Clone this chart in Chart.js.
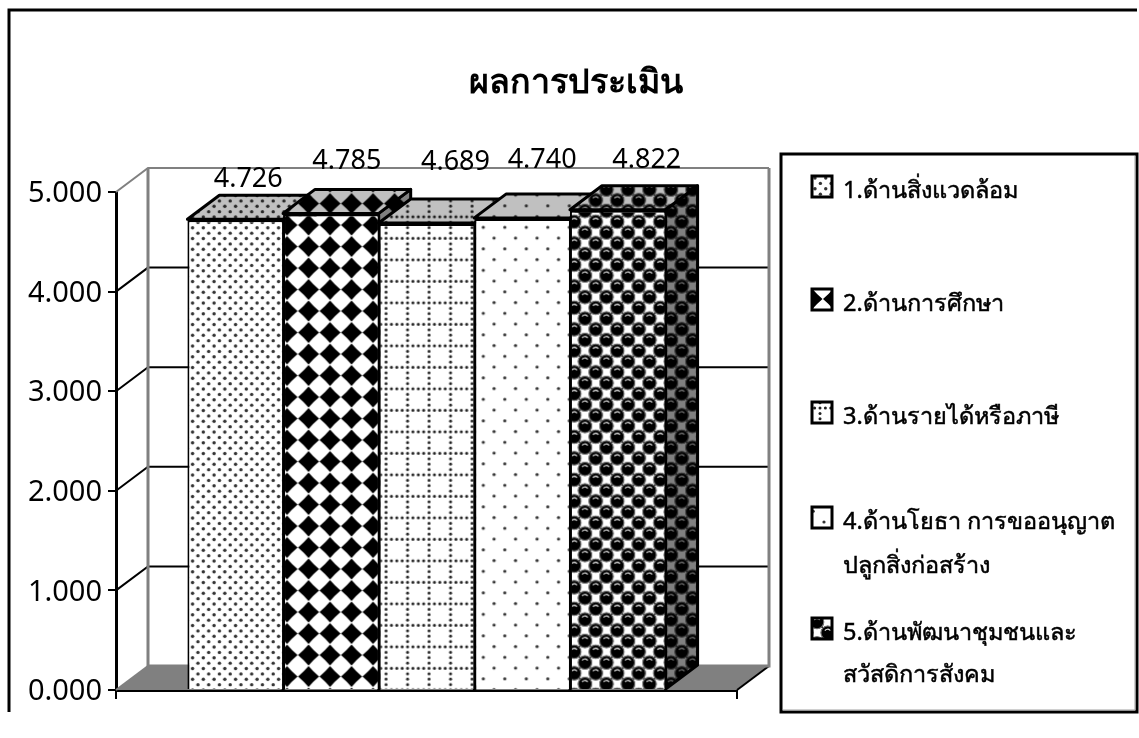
<!DOCTYPE html>
<html>
<head>
<meta charset="utf-8">
<style>
    html, body { margin: 0; padding: 0; background: #fff; }
    canvas { display: block; }
</style>
<script src="https://cdn.jsdelivr.net/npm/chart.js@4"></script>
</head>
<body>
<canvas id="evalChart" width="1139" height="738"></canvas>
<script>
const categories = [""];
const seriesNames = ["1.ด้านสิ่งแวดล้อม", "2.ด้านการศึกษา", "3.ด้านรายได้หรือภาษี", "4.ด้านโยธา การขออนุญาต", "5.ด้านพัฒนาชุมชนและ"];
const seriesNamesLine2 = ["", "", "", "ปลูกสิ่งก่อสร้าง", "สวัสดิการสังคม"];
const seriesValues = [4.726, 4.785, 4.689, 4.740, 4.822];
const titleText = "ผลการประเมิน";

const FONT = "'Noto Sans', Tahoma, sans-serif";
const DEPTH_X = 32, DEPTH_Y = -24;
const TILE = 43, CELL = 21.5;

// hand placed value labels, same as the original sheet
const labelNudgeX = [13, 16, 29, 20, 29];
const labelY = [179, 161, 162, 160, 160];
// legend rows (baseline of first line, baseline of second)
const legendRows = [[198], [311], [424], [529, 573], [640, 682]];
const swatchAnchor = [[3, 2], [0, 10], [8, 6], [12, 15], [5, 4]];

function makeTile(paint) {
    let c = document.createElement("canvas");
    c.width = TILE; c.height = TILE;
    let g = c.getContext("2d");
    g.fillStyle = "#fff";
    g.fillRect(0, 0, TILE, TILE);
    paint(g);
    return c;
}

function dot(g, x, y, r) {
    g.beginPath();
    g.arc(x, y, r, 0, Math.PI * 2);
    g.fill();
}

// every cell is drawn with wrap around so the tile stays seamless
function eachCell(step, fn) {
    for (let i = -1; i * step <= TILE + step; i++) {
        for (let j = -1; j * step <= TILE + step; j++) {
            fn(i * step, j * step, i, j);
        }
    }
}

const tiles = [
    makeTile((g) => {
        g.fillStyle = "#333";
        eachCell(CELL / 4, (x, y, i, j) => { if ((i + j) % 2 == 0) dot(g, x, y, 1.7); });
    }),
    makeTile((g) => {
        g.fillStyle = "#000";
        eachCell(CELL, (x, y) => {
            let r = 10.5, k = 4.8;
            g.beginPath();
            g.moveTo(x - r, y);
            g.quadraticCurveTo(x - k, y - k, x, y - r);
            g.quadraticCurveTo(x + k, y - k, x + r, y);
            g.quadraticCurveTo(x + k, y + k, x, y + r);
            g.quadraticCurveTo(x - k, y + k, x - r, y);
            g.fill();
        });
    }),
    makeTile((g) => {
        g.fillStyle = "#222";
        eachCell(CELL / 4, (x, y, i, j) => {
            if (i % 4 == 0 || j % 4 == 0) dot(g, x, y, 1.5);
        });
    }),
    makeTile((g) => {
        g.fillStyle = "#333";
        eachCell(CELL / 2, (x, y, i, j) => { if ((i + j) % 2 == 0 && i % 2 == 0) dot(g, x, y, 1.6); });
        eachCell(CELL / 2, (x, y, i, j) => { if (i % 2 != 0 && j % 2 != 0) dot(g, x, y, 1.6); });
    }),
    makeTile((g) => {
        g.fillStyle = "#000";
        g.fillRect(0, 0, TILE, TILE);
        eachCell(CELL / 2, (x, y, i, j) => {
            if ((i + j) % 2 != 0) {
                g.fillStyle = "#fff";
                g.fillRect(x - 5, y - 5, 10, 10);
            }
        });
        eachCell(CELL / 2, (x, y, i, j) => {
            if ((i + j) % 2 == 0) {
                g.fillStyle = "#000";
                dot(g, x, y, 7);
                g.strokeStyle = "#777";
                g.lineWidth = 1.1;
                g.beginPath();
                g.arc(x, y, 6.8, 0, Math.PI * 2);
                g.stroke();
                g.strokeStyle = "#dcdcdc";
                g.lineWidth = 1.3;
                g.beginPath();
                g.arc(x, y, 3.5, Math.PI * 1.2, Math.PI * 1.8);
                g.stroke();
            }
        });
    }),
];

const patternPhase = [[9.8, 2], [7.5, 10], [20.5, 1.8], [10.3, 12.3], [15.2, 6.7]];
const ctx = document.getElementById("evalChart").getContext("2d");
const patterns = tiles.map((t, i) => {
    let p = ctx.createPattern(t, "repeat");
    p.setTransform(new DOMMatrix().translate(patternPhase[i][0], patternPhase[i][1]));
    return p;
});

function poly(c, pts) {
    c.beginPath();
    pts.forEach((p, i) => i ? c.lineTo(p[0], p[1]) : c.moveTo(p[0], p[1]));
    c.closePath();
}

function shadeFace(c, pts, pattern, shade) {
    poly(c, pts);
    c.fillStyle = pattern;
    c.fill();
    c.save();
    c.globalCompositeOperation = "multiply";
    c.fillStyle = shade;
    c.fill();
    c.restore();
    c.strokeStyle = "#000";
    c.lineWidth = 3;
    c.lineJoin = "round";
    c.stroke();
}

const box3d = {
    id: "box3d",
    afterLayout(chart) {
        // title is centred on the whole frame, not the plot
        chart.titleBlock.right = chart.width - 1;
    },
    beforeDraw(chart) {
        let c = chart.ctx;
        c.save();
        c.fillStyle = "#fff";
        c.fillRect(0, 0, chart.width, chart.height);
        // outer frame has no bottom edge left of the legend
        c.strokeStyle = "#000";
        c.lineWidth = 3;
        c.beginPath();
        c.moveTo(9, 712);
        c.lineTo(9, 10);
        c.lineTo(1137, 10);
        c.stroke();
        c.restore();
    },
    beforeDatasetsDraw(chart) {
        let c = chart.ctx;
        let a = chart.chartArea;
        let y = chart.scales.y;
        c.save();

        // floor
        poly(c, [[a.left, a.bottom], [a.left + DEPTH_X, a.bottom + DEPTH_Y], [a.right + DEPTH_X, a.bottom + DEPTH_Y], [a.right, a.bottom]]);
        c.fillStyle = "#808080";
        c.fill();
        c.lineWidth = 2;
        c.strokeStyle = "#000";
        c.beginPath();
        c.moveTo(a.right, a.bottom);
        c.lineTo(a.right + DEPTH_X, a.bottom + DEPTH_Y);
        c.stroke();

        // gridlines on the side and back walls
        y.ticks.forEach((t) => {
            let py = y.getPixelForValue(t.value);
            if (t.value == 0) return;
            c.strokeStyle = t.value == 5 ? "#808080" : "#000";
            c.lineWidth = 2;
            c.beginPath();
            c.moveTo(a.left, py);
            c.lineTo(a.left + DEPTH_X, py + DEPTH_Y);
            c.lineTo(a.right + DEPTH_X, py + DEPTH_Y);
            c.stroke();
        });

        // wall edges
        c.strokeStyle = "#808080";
        c.lineWidth = 3;
        c.beginPath();
        c.moveTo(a.left + DEPTH_X, a.top + DEPTH_Y);
        c.lineTo(a.left + DEPTH_X, a.bottom + DEPTH_Y);
        c.lineTo(a.right + DEPTH_X, a.bottom + DEPTH_Y);
        c.lineTo(a.right + DEPTH_X, a.top + DEPTH_Y);
        c.stroke();
        c.lineWidth = 2;
        c.beginPath();
        c.moveTo(a.left, a.bottom);
        c.lineTo(a.left + DEPTH_X, a.bottom + DEPTH_Y);
        c.stroke();

        // top and side of each bar, the front comes from the library
        chart.data.datasets.forEach((ds, i) => {
            let b = chart.getDatasetMeta(i).data[0];
            let l = b.x - b.width / 2, r = b.x + b.width / 2;
            shadeFace(c, [[r, b.y], [r + DEPTH_X, b.y + DEPTH_Y], [r + DEPTH_X, b.base + DEPTH_Y], [r, b.base]], patterns[i], "#808080");
            shadeFace(c, [[l, b.y], [l + DEPTH_X, b.y + DEPTH_Y], [r + DEPTH_X, b.y + DEPTH_Y], [r, b.y]], patterns[i], "#c0c0c0");
        });
        c.restore();
    },
    afterDatasetsDraw(chart) {
        let c = chart.ctx;
        c.save();
        c.font = "27px " + FONT;
        c.fillStyle = "#000";
        c.textAlign = "center";
        c.textBaseline = "middle";
        chart.data.datasets.forEach((ds, i) => {
            let b = chart.getDatasetMeta(i).data[0];
            c.fillText(ds.data[0].toFixed(3), b.x + labelNudgeX[i], labelY[i]);
        });
        c.restore();
    },
    afterDraw(chart) {
        // legend box: rows are not evenly spaced, so the stock legend can't do it
        let c = chart.ctx;
        c.save();
        c.fillStyle = "#fff";
        c.fillRect(781, 154, 356, 558);
        c.strokeStyle = "#000";
        c.lineWidth = 3;
        c.strokeRect(781, 154, 356, 558);
        c.strokeStyle = "#a0a0a0";
        c.lineWidth = 1;
        c.beginPath();
        c.moveTo(1135, 156);
        c.lineTo(1135, 710);
        c.lineTo(783, 710);
        c.stroke();
        c.font = "23.5px " + FONT;
        c.textBaseline = "alphabetic";
        seriesNames.forEach((name, i) => {
            let base = legendRows[i][0];
            let p = c.createPattern(tiles[i], "repeat");
            p.setTransform(new DOMMatrix().translate(812 + swatchAnchor[i][0], base - 22 + swatchAnchor[i][1]));
            c.fillStyle = p;
            c.fillRect(812, base - 22, 20, 21);
            c.strokeStyle = "#000";
            c.lineWidth = 3;
            c.strokeRect(812, base - 22, 20, 21);
            c.fillStyle = "#000";
            c.lineWidth = 0.5;
            c.fillText(name, 843, base);
            c.strokeText(name, 843, base);
            if (seriesNamesLine2[i]) {
                c.fillText(seriesNamesLine2[i], 843, legendRows[i][1]);
                c.strokeText(seriesNamesLine2[i], 843, legendRows[i][1]);
            }
        });
        c.restore();
    }
};

new Chart(ctx, {
    type: "bar",
    data: {
        labels: categories,
        datasets: seriesNames.map((name, i) => ({
            label: name,
            data: [seriesValues[i]],
            backgroundColor: patterns[i],
            borderColor: "#000",
            borderWidth: { top: 3, left: 2, right: 1, bottom: 0 },
            borderSkipped: false,
        })),
    },
    options: {
        responsive: false,
        animation: false,
        categoryPercentage: 0.77,
        barPercentage: 1,
        layout: {
            padding: { left: 14, right: 402, top: 0, bottom: 0 }
        },
        plugins: {
            legend: { display: false },
            tooltip: { enabled: false },
            title: {
                display: true,
                text: titleText,
                color: "#000",
                font: { family: FONT, size: 34, weight: "bold" },
                padding: { top: 63, bottom: 88.2 }
            }
        },
        scales: {
            x: {
                afterFit: (s) => { s.height = 48; },
                ticks: { display: false },
                border: { color: "#000", width: 3 },
                grid: { drawOnChartArea: false, color: "#000", lineWidth: 2, tickLength: 9 }
            },
            y: {
                min: 0,
                max: 5,
                afterFit: (s) => { s.width = 102; },
                ticks: {
                    stepSize: 1,
                    color: "#000",
                    padding: 6,
                    labelOffset: 2,
                    font: { family: FONT, size: 29 },
                    callback: (v) => v.toFixed(3)
                },
                border: { color: "#000", width: 3 },
                grid: { drawOnChartArea: false, color: "#000", lineWidth: 2, tickLength: 8 }
            }
        }
    },
    plugins: [box3d]
});
</script>
</body>
</html>
